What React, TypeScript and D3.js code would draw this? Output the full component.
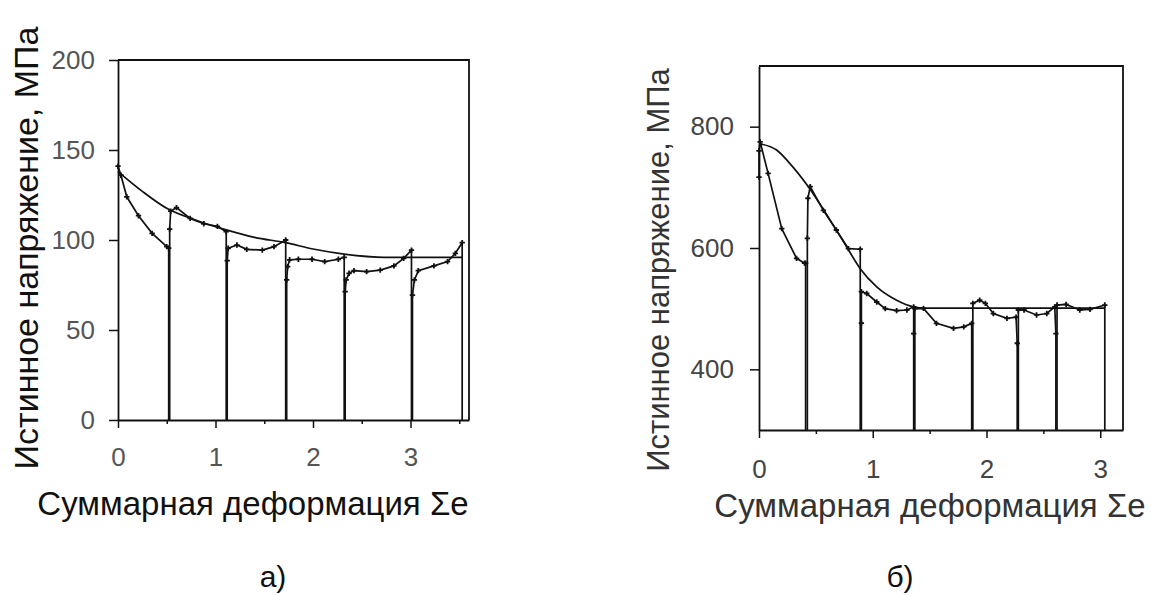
// App.tsx

import React, { useEffect, useRef } from 'react';
import * as d3 from 'd3';

type Pt = [number, number];

// панель а)
const stressTicksA = [0, 50, 100, 150, 200];
const strainTicksA = [0, 1, 2, 3];
const strainMinorA = [0.5, 1.5, 2.5, 3.5];
const envelopeA: Pt[] = [
    [0, 138], [0.25, 127], [0.5, 117.6], [0.8, 111], [1.12, 105.5], [1.4, 101.5],
    [1.72, 98.5], [2.0, 95], [2.32, 92.2], [2.73, 90.4], [3.0, 90.4], [3.53, 90.4],
];
const passesA: Pt[][] = [
    [[0, 141], [0.03, 136], [0.09, 124], [0.21, 113.5], [0.35, 103.7], [0.5, 96.3], [0.52, 95.5], [0.52, 0]],
    [[0.53, 0], [0.53, 106], [0.54, 116], [0.6, 118], [0.74, 112], [0.88, 109], [1.02, 107.6], [1.11, 104.6], [1.11, 0]],
    [[1.12, 0], [1.12, 88.5], [1.13, 95.4], [1.22, 97.2], [1.32, 94.8], [1.48, 94.4], [1.6, 96.3], [1.72, 100], [1.72, 0]],
    [[1.73, 0], [1.73, 77.8], [1.74, 85.2], [1.76, 89], [1.85, 89.3], [1.99, 89.3], [2.12, 88], [2.26, 89.3], [2.32, 90.4], [2.32, 0]],
    [[2.33, 0], [2.33, 71.3], [2.34, 77.8], [2.37, 81.5], [2.42, 83], [2.55, 82.4], [2.69, 83.3], [2.83, 85.6], [2.93, 89.8], [3.01, 94.4], [3.01, 0]],
    [[3.02, 0], [3.02, 69.4], [3.04, 77.8], [3.08, 83], [3.24, 85.6], [3.38, 88], [3.46, 92.6], [3.53, 98.5], [3.53, 0]],
];

// панель б)
const stressTicksB = [400, 600, 800];
const strainTicksB = [0, 1, 2, 3];
const strainMinorB = [0.5, 1.5, 2.5];
const envelopeB: Pt[] = [
    [0, 772], [0.155, 761.5], [0.27, 739.6], [0.434, 701], [0.625, 646], [0.77, 602],
    [0.89, 566], [1.035, 536], [1.21, 514], [1.36, 503], [1.45, 501], [3.04, 501],
];
const passesB: Pt[][] = [
    [[0, 717], [0, 760], [0.01, 775], [0.08, 723], [0.2, 632], [0.33, 583], [0.4, 575], [0.41, 575], [0.41, 300]],
    [[0.425, 300], [0.425, 616], [0.43, 682], [0.45, 701], [0.566, 662], [0.68, 629.7], [0.786, 599], [0.89, 598], [0.89, 300]],
    [[0.9, 300], [0.9, 476], [0.9, 528], [0.947, 525], [1.035, 511], [1.11, 500], [1.21, 496.7], [1.3, 497.8], [1.36, 503], [1.36, 459], [1.36, 300]],
    [[1.37, 300], [1.37, 500], [1.446, 500.5], [1.56, 475.8], [1.71, 467.6], [1.8, 470], [1.87, 475.8], [1.87, 300]],
    [[1.88, 300], [1.88, 508.8], [1.94, 514], [1.99, 508.8], [2.06, 492], [2.18, 484], [2.26, 486], [2.27, 443], [2.27, 300]],
    [[2.28, 300], [2.28, 497.8], [2.33, 497.8], [2.44, 489.6], [2.53, 492], [2.6, 503], [2.61, 459], [2.61, 300]],
    [[2.62, 300], [2.62, 506], [2.7, 507], [2.82, 497.8], [2.91, 498.9], [3.04, 506], [3.04, 300]],
];

const FONT = '"Liberation Sans", Arial, sans-serif';

const drawPanel = (svg, cfg) => {
    const { box, xDomain, yDomain, xTicks, xMinor, yTicks, envelope, passes, tickFont, tickColor } = cfg;
    const x = d3.scaleLinear().domain(xDomain).range([box.left, box.right]);
    const y = d3.scaleLinear().domain(yDomain).range([box.bottom, box.top]);
    const g = svg.append('g');

    // рамка сверху и справа
    g.append('path')
        .attr('d', `M${box.left},${box.top}H${box.right}V${box.bottom}`)
        .attr('fill', 'none')
        .attr('stroke', '#111')
        .attr('stroke-width', 1.8);

    // оси
    const yAxis = g.append('g')
        .attr('transform', `translate(${box.left},0)`)
        .call(d3.axisLeft(y).tickValues(yTicks).tickSize(9).tickSizeOuter(0).tickPadding(cfg.yPad));
    const xAxis = g.append('g')
        .attr('transform', `translate(0,${box.bottom})`)
        .call(d3.axisBottom(x).tickValues(xTicks).tickSize(8).tickSizeOuter(0).tickPadding(cfg.xPad).tickFormat(d3.format('d')));
    g.append('g')
        .attr('transform', `translate(0,${box.bottom})`)
        .call(d3.axisBottom(x).tickValues(xMinor).tickSize(4).tickSizeOuter(0).tickFormat(() => ''))
        .select('.domain').remove();

    [yAxis, xAxis].forEach(a => {
        a.select('.domain').attr('stroke', '#111').attr('stroke-width', 1.8);
        a.selectAll('.tick text')
            .attr('font-family', FONT)
            .attr('font-size', tickFont)
            .attr('fill', tickColor);
    });
    g.selectAll('.tick line').attr('stroke', '#111').attr('stroke-width', 1.5);

    // огибающая
    const smooth = d3.line<Pt>().x(d => x(d[0])).y(d => y(d[1])).curve(d3.curveMonotoneX);
    g.append('path')
        .datum(envelope)
        .attr('d', smooth)
        .attr('fill', 'none')
        .attr('stroke', '#111')
        .attr('stroke-width', 1.7);

    // проходы
    const plain = d3.line<Pt>().x(d => x(d[0])).y(d => y(d[1]));
    passes.forEach(p => {
        g.append('path')
            .datum(p)
            .attr('d', plain)
            .attr('fill', 'none')
            .attr('stroke', '#111')
            .attr('stroke-width', 1.7);
        g.selectAll(null)
            .data(p.filter(d => d[1] > yDomain[0]))
            .enter()
            .append('path')
            .attr('d', d3.symbol(d3.symbolCross, 16))
            .attr('transform', d => `translate(${x(d[0])},${y(d[1])})`)
            .attr('fill', '#111');
    });
};

const App = () => {
    const svgRef = useRef<SVGSVGElement>(null);

    useEffect(() => {
        const svg = d3.select(svgRef.current);
        svg.selectAll('*').remove();

        drawPanel(svg, {
            box: { left: 118, right: 469, top: 60, bottom: 420 },
            xDomain: [0, 3.6], yDomain: [0, 200],
            xTicks: strainTicksA, xMinor: strainMinorA, yTicks: stressTicksA,
            envelope: envelopeA, passes: passesA,
            tickFont: 26, tickColor: '#555', yPad: 14, xPad: 20,
        });
        drawPanel(svg, {
            box: { left: 759, right: 1123, top: 66, bottom: 430 },
            xDomain: [0, 3.2], yDomain: [300, 900],
            xTicks: strainTicksB, xMinor: strainMinorB, yTicks: stressTicksB,
            envelope: envelopeB, passes: passesB,
            tickFont: 26, tickColor: '#444', yPad: 16, xPad: 22,
        });

        const label = (txt, tx, ty, size, color, rot = false) =>
            svg.append('text')
                .attr('transform', `translate(${tx},${ty})${rot ? ' rotate(-90)' : ''}`)
                .attr('text-anchor', 'middle')
                .attr('font-family', FONT)
                .attr('font-size', size)
                .attr('fill', color)
                .text(txt);

        label('Истинное напряжение, МПа', 38, 248, 34, '#111', true);
        label('Суммарная деформация Σе', 253, 515, 33, '#111');
        label('а)', 273, 587, 30, '#111');

        label('Истинное напряжение, МПа', 669, 270, 31, '#333', true);
        label('Суммарная деформация Σе', 930, 517, 33, '#333');
        label('б)', 900, 587, 30, '#111');
    }, []);

    return (
        <svg ref={svgRef} width={1157} height={595}
            style={{ position: 'absolute', left: 0, top: 0, background: '#fff' }} />
    );
};

export default App;
